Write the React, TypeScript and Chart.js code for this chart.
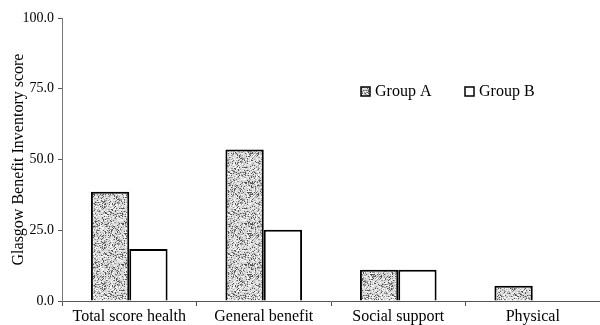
import React, { useEffect, useRef } from "react";
import { Chart, registerables } from "chart.js";

Chart.register(...registerables);

const categories = ["Total score health", "General benefit", "Social support", "Physical"];
const groupA = [38.6, 53.5, 11.0, 5.4];
const groupB = [18.4, 25.2, 11.0, 0];
const seriesNames = ["Group A", "Group B"];
const yTicks = [0, 25, 50, 75, 100];

function makeStipple(): CanvasPattern | string {
  const size = 41;
  const c = document.createElement("canvas");
  c.width = size;
  c.height = size;
  const g = c.getContext("2d");
  if (!g) return "#bbbbbb";
  g.fillStyle = "#d8d8d8";
  g.fillRect(0, 0, size, size);
  let s = 12345;
  const next = () => {
    s = (s * 1103515245 + 12345) & 0x7fffffff;
    return s / 0x7fffffff;
  };
  for (let y = 0; y < size; y++) {
    for (let x = 0; x < size; x++) {
      const r = next();
      if (r < 0.13) {
        g.fillStyle = "#555555";
        g.fillRect(x, y, 1, 1);
      } else if (r < 0.3) {
        g.fillStyle = "#9a9a9a";
        g.fillRect(x, y, 1, 1);
      } else if (r < 0.5) {
        g.fillStyle = "#f6f6f6";
        g.fillRect(x, y, 1, 1);
      }
    }
  }
  const p = g.createPattern(c, "repeat");
  return p || "#bbbbbb";
}

export default function App() {
  const ref = useRef<HTMLCanvasElement | null>(null);

  useEffect(() => {
    document.body.style.margin = "0";
    const canvas = ref.current;
    if (!canvas) return;
    const stipple = makeStipple();

    const legendPlugin = {
      id: "customLegend",
      afterDraw(chart: any) {
        const ctx = chart.ctx;
        ctx.save();
        const items = [
          { x: 361, fill: stipple, label: seriesNames[0] },
          { x: 465, fill: "#ffffff", label: seriesNames[1] },
        ];
        items.forEach((it) => {
          ctx.fillStyle = it.fill;
          ctx.fillRect(it.x, 87, 9, 9);
          ctx.strokeStyle = "#000";
          ctx.lineWidth = 1.5;
          ctx.strokeRect(it.x, 87, 9, 9);
          ctx.fillStyle = "#000";
          ctx.font = "16px 'Liberation Serif'";
          ctx.textBaseline = "middle";
          ctx.textAlign = "left";
          ctx.fillText(it.label, it.x + 14, 92);
        });
        ctx.restore();
      },
    };

    const chart = new Chart(canvas, {
      type: "bar",
      data: {
        labels: categories,
        datasets: [
          {
            label: seriesNames[0],
            data: groupA,
            backgroundColor: stipple as any,
            borderColor: "#000",
            borderWidth: 2,
            categoryPercentage: 0.57,
            barPercentage: 1.0,
          },
          {
            label: seriesNames[1],
            data: groupB,
            backgroundColor: "#ffffff",
            borderColor: "#000",
            borderWidth: 2,
            categoryPercentage: 0.57,
            barPercentage: 1.0,
          },
        ],
      },
      options: {
        animation: false,
        responsive: false,
        maintainAspectRatio: false,
        layout: { padding: { top: 18, right: 0, left: 0, bottom: 0 } },
        plugins: {
          legend: { display: false },
          tooltip: { enabled: false },
        },
        scales: {
          x: {
            grid: {
              display: true,
              drawOnChartArea: false,
              drawTicks: true,
              tickLength: 5,
              color: "#555",
              offset: true,
            },
            border: { display: true, color: "#555", width: 1 },
            ticks: {
              color: "#000",
              font: { family: "'Liberation Serif'", size: 16 },
              padding: 1,
              maxRotation: 0,
              autoSkip: false,
            },
            afterFit: (scale: any) => {
              scale.height = 24;
            },
          },
          y: {
            min: 0,
            max: 100,
            afterBuildTicks: (scale: any) => {
              scale.ticks = yTicks.map((v) => ({ value: v }));
            },
            grid: {
              display: true,
              drawOnChartArea: false,
              drawTicks: true,
              tickLength: 4,
              color: "#555",
            },
            border: { display: true, color: "#777", width: 1 },
            ticks: {
              color: "#000",
              font: { family: "'Liberation Serif'", size: 14 },
              padding: 4,
              callback: (v: any) => Number(v).toFixed(1),
            },
            title: {
              display: true,
              text: "Glasgow Benefit Inventory score",
              color: "#000",
              font: { family: "'Liberation Serif'", size: 16 },
              padding: { top: 9, bottom: 0 },
            },
            afterFit: (scale: any) => {
              scale.width = 62;
            },
          },
        },
      },
      plugins: [legendPlugin],
    });

    return () => {
      chart.destroy();
    };
  }, []);

  return (
    <div style={{ position: "absolute", left: 0, top: 0, width: 600, height: 325, background: "#fff" }}>
      <canvas ref={ref} width={600} height={325} style={{ width: 600, height: 325 }} />
    </div>
  );
}
